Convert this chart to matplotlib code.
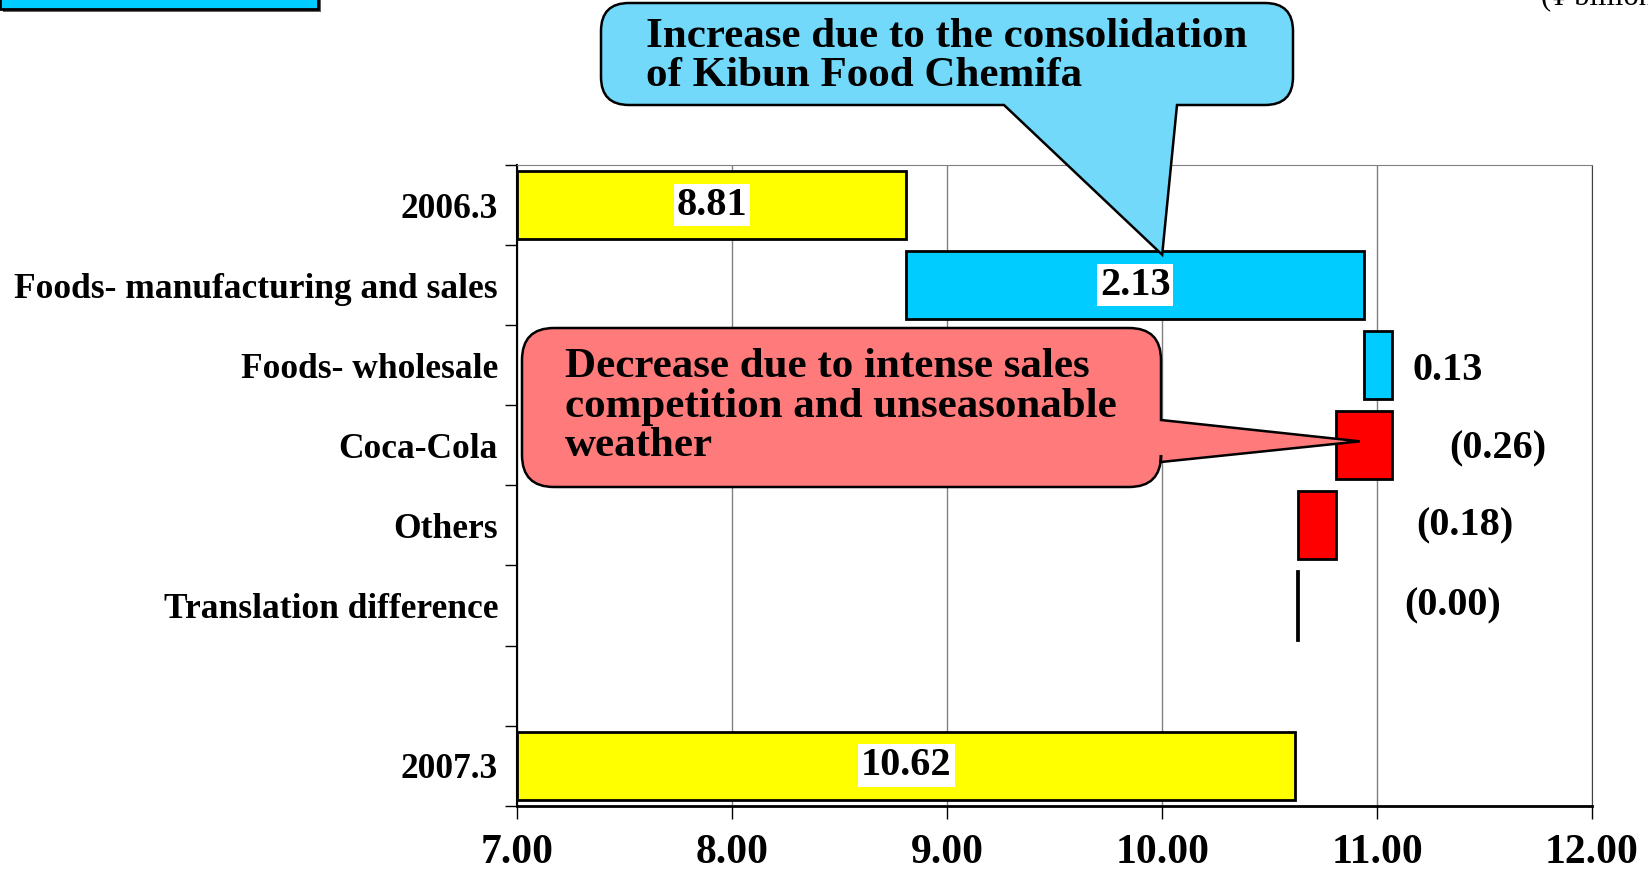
import matplotlib
matplotlib.use('Agg')
import matplotlib.pyplot as plt
from matplotlib.path import Path
from matplotlib.patches import PathPatch, Rectangle

plt.rcParams['font.family'] = ['Liberation Serif', 'DejaVu Serif']
plt.rcParams['font.weight'] = 'bold'

# data
categories = ['2006.3', 'Foods- manufacturing and sales', 'Foods- wholesale',
              'Coca-Cola', 'Others', 'Translation difference', '', '2007.3']
start_total = 8.81
end_total = 10.62
deltas = [2.13, 0.13, -0.26, -0.18, -0.004]
delta_labels = ['2.13', '0.13', '(0.26)', '(0.18)', '(0.00)']
xticks = [7.0, 8.0, 9.0, 10.0, 11.0, 12.0]

# where the small labels sit (None = inside the bar)
label_x = [None, 11.33, 11.56, 11.41, 11.35]
label_dy = [0, 0.06, 0.05, 0, 0]

W, H = 1648, 873
fig = plt.figure(figsize=(W / 100, H / 100), dpi=100)
ax = fig.add_axes([0.314, 0.077, 0.652, 0.734])

bar_h = 0.85
yellow = '#ffff00'
cyan = '#00ccff'
red = '#ff0000'

#Totals
ax.barh(0, start_total - 7, left=7, height=bar_h, color=yellow, edgecolor='black', linewidth=2, zorder=3)
ax.barh(7, end_total - 7, left=7, height=bar_h, color=yellow, edgecolor='black', linewidth=2, zorder=3)
box = dict(facecolor='white', edgecolor='none', pad=2)
ax.text((7 + start_total) / 2, 0, f'{start_total:.2f}', ha='center', va='center', fontsize=29, bbox=box, zorder=4)
ax.text((7 + end_total) / 2, 7, f'{end_total:.2f}', ha='center', va='center', fontsize=29, bbox=box, zorder=4)

#Steps
cum = start_total
for i, d in enumerate(deltas):
    y = i + 1
    col = cyan if d > 0 else red
    ax.barh(y, d, left=cum, height=bar_h, color=col, edgecolor='black', linewidth=2, zorder=3)
    if label_x[i] is None:
        ax.text(cum + d / 2, y, delta_labels[i], ha='center', va='center', fontsize=29, bbox=box, zorder=4)
    else:
        ax.text(label_x[i], y + label_dy[i], delta_labels[i], ha='center', va='center', fontsize=29, zorder=4)
    cum += d

ax.set_xlim(7, 12)
ax.set_ylim(len(categories) - 0.5, -0.5)
ax.set_xticks(xticks)
ax.set_xticklabels([f'{v:.2f}' for v in xticks], fontsize=30)
ax.set_yticks(range(len(categories)))
ax.set_yticklabels(categories, fontsize=25.5)
ax.set_yticks([i - 0.5 for i in range(len(categories) + 1)], minor=True)
ax.tick_params(axis='y', which='major', length=0, pad=14)
ax.tick_params(axis='y', which='minor', length=9, width=1, direction='out')
ax.tick_params(axis='x', which='major', length=9, width=1, direction='out', pad=11)
ax.grid(axis='x', color='#808080', linewidth=1, zorder=0)
ax.set_axisbelow(True)
ax.spines['top'].set_color('#808080')
ax.spines['right'].set_color('#404040')
ax.spines['bottom'].set_linewidth(2)
ax.spines['left'].set_linewidth(1.5)


def px(x, y):
    return (x / W, 1 - y / H)


def data_px(x, y):
    # data point -> figure pixels (y down)
    fig.canvas.draw()
    dx, dy = ax.transData.transform((x, y))
    return dx, H - dy


def callout(x0, y0, x1, y1, r, side, b0, b1, tip):
    v = [(x0 + r, y0), (x1 - r, y0), (x1, y0), (x1, y0 + r)]
    c = [Path.MOVETO, Path.LINETO, Path.CURVE3, Path.CURVE3]
    if side == 'right':
        v += [(x1, b0), tip, (x1, b1)]
        c += [Path.LINETO] * 3
    v += [(x1, y1 - r), (x1, y1), (x1 - r, y1)]
    c += [Path.LINETO, Path.CURVE3, Path.CURVE3]
    if side == 'bottom':
        v += [(b1, y1), tip, (b0, y1)]
        c += [Path.LINETO] * 3
    v += [(x0 + r, y1), (x0, y1), (x0, y1 - r), (x0, y0 + r), (x0, y0), (x0 + r, y0), (x0 + r, y0)]
    c += [Path.LINETO, Path.CURVE3, Path.CURVE3, Path.LINETO, Path.CURVE3, Path.CURVE3, Path.CLOSEPOLY]
    return Path([px(*p) for p in v], c)


# blue callout
tip_blue = data_px(10.0, 0.62)
p = callout(601, 3, 1293, 105, 28, 'bottom', 1004, 1177, tip_blue)
fig.patches.append(PathPatch(p, facecolor='#72d9fa', edgecolor='black', linewidth=1.8, transform=fig.transFigure, zorder=5))
fig.text(*px(646, 18), 'Increase due to the consolidation\nof Kibun Food Chemifa',
         ha='left', va='top', fontsize=31, linespacing=1.05, zorder=6)

# red callout
tip_red = data_px(10.92, 2.95)
p = callout(522, 328, 1161, 487, 32, 'right', 420, 462, tip_red)
fig.patches.append(PathPatch(p, facecolor='#ff7a7a', edgecolor='black', linewidth=1.8, transform=fig.transFigure, zorder=5))
fig.text(*px(565, 348), 'Decrease due to intense sales\ncompetition and unseasonable\nweather',
         ha='left', va='top', fontsize=31, linespacing=1.06, zorder=6)

# cut-off box top left
fig.patches.append(Rectangle(px(3, 12), 318 / W, 30 / H, facecolor='#606060', edgecolor='none', transform=fig.transFigure, zorder=4))
fig.patches.append(Rectangle(px(0, 9), 318 / W, 30 / H, facecolor=cyan, edgecolor='black', linewidth=2, transform=fig.transFigure, zorder=5))

# unit, cut off at the top
fig.text(*px(1541, 5), '(\u00a5 billion)', ha='left', va='baseline', fontsize=22, fontweight='normal')

fig.savefig('out.png', dpi=100)
